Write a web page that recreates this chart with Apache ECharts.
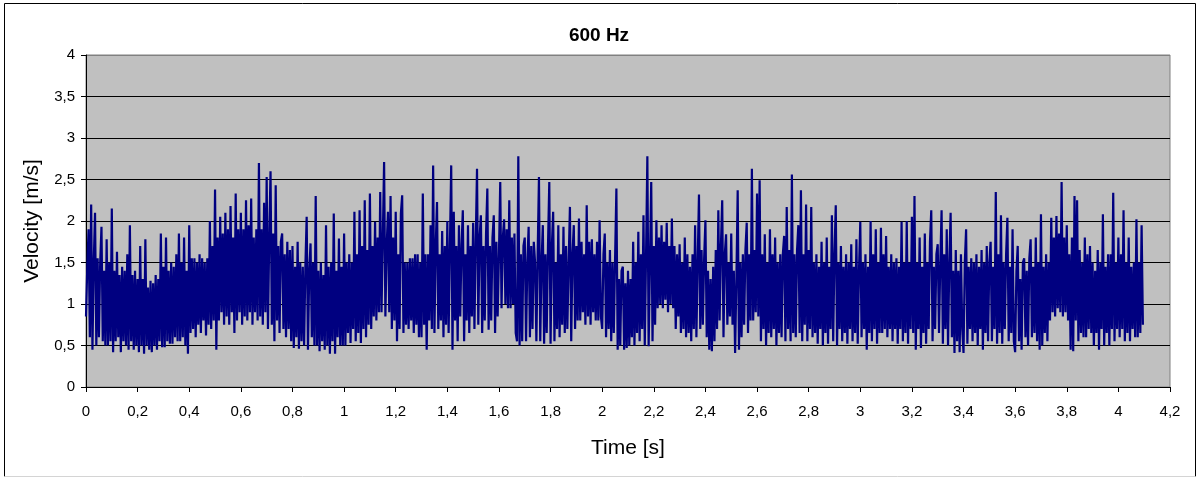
<!DOCTYPE html>
<html>
<head>
<meta charset="utf-8">
<script src="https://cdn.jsdelivr.net/npm/echarts@6/dist/echarts.min.js"></script>
<style>
html,body{margin:0;padding:0;background:#fff;}
#chart{width:1198px;height:479px;}
</style>
</head>
<body>
<div id="chart"></div>
<script>
var chartTitle = "600 Hz";
var xAxisName = "Time [s]";
var yAxisName = "Velocity [m/s]";
var sampleStep = 0.005; // seconds between samples
var velocity = [
0.85,1.45,1.9,0.6,2.2,0.45,1.5,2.1,0.5,1.55,0.6,1.5,1.93,0.55,1.4,0.5,1.78,0.5,1.5,0.55,
2.15,0.42,1.4,0.55,1.63,0.6,1.35,0.42,1.45,0.55,1.4,0.5,1.6,0.45,1.95,0.55,1.35,0.45,1.4,0.5,
1.3,0.42,1.7,0.5,1.3,0.4,1.78,0.5,1.2,0.45,1.28,0.42,1.25,0.5,1.35,0.45,1.3,0.55,1.85,0.48,
1.45,0.48,1.8,0.55,1.4,0.52,1.5,0.52,1.45,0.6,1.6,0.55,1.85,0.55,1.5,0.6,1.8,0.5,1.4,0.4,
1.95,0.65,1.55,0.7,1.55,0.6,1.5,0.75,1.6,0.65,1.55,0.8,1.5,0.62,1.55,0.75,2.0,0.7,1.7,0.8,
2.38,0.45,1.8,0.8,2.05,0.9,1.85,0.75,2.1,0.85,1.9,0.75,2.18,0.9,1.8,0.65,2.33,0.8,1.9,0.9,
2.1,0.75,1.9,0.85,2.25,0.8,1.95,0.9,2.27,0.75,1.8,0.9,1.9,0.8,2.7,0.85,1.9,0.75,2.22,0.9,
2.53,0.7,1.8,2.6,0.75,1.85,0.55,2.43,0.8,1.7,0.65,1.75,1.85,0.7,1.6,0.6,1.75,0.7,1.65,0.55,
1.7,0.47,1.45,0.6,1.75,0.46,1.5,0.55,1.45,0.5,1.45,2.05,0.45,1.4,1.73,0.6,1.5,0.5,2.3,0.5,
1.4,0.43,1.5,0.55,1.35,0.45,1.95,0.5,1.45,0.4,1.5,0.55,2.09,0.4,1.4,0.6,1.79,0.5,1.45,0.5,
1.85,0.5,1.5,0.65,1.6,0.53,1.5,0.7,2.11,0.55,1.6,0.65,2.13,0.53,1.7,0.7,2.25,0.6,1.65,0.75,
2.33,0.7,1.7,0.85,1.99,0.8,1.8,0.9,2.35,0.9,1.8,2.71,0.85,1.7,2.11,0.9,2.3,0.7,1.8,0.8,
2.11,0.55,1.6,0.7,2.09,2.31,0.65,1.5,0.75,1.5,0.7,1.55,0.8,1.55,0.65,1.6,0.75,1.6,0.6,1.5,
0.6,2.33,0.75,1.6,0.45,1.6,0.8,1.95,0.7,2.67,0.65,1.7,2.23,0.7,1.6,0.8,1.88,0.6,1.7,0.75,
2.0,0.65,1.7,2.67,0.45,2.11,0.8,1.7,0.55,1.95,0.85,1.7,2.13,0.55,1.6,0.8,1.95,0.65,1.7,0.85,
1.98,0.7,1.75,2.63,0.75,1.8,2.07,0.65,1.7,0.8,1.85,2.39,0.69,1.7,0.8,1.8,2.07,0.65,1.75,0.85,
1.6,2.47,0.95,1.8,2.02,1.0,1.9,0.95,2.25,0.95,1.8,1.0,1.85,0.65,0.55,2.78,0.5,1.6,0.55,1.7,
1.8,0.55,1.5,1.93,0.6,1.7,0.7,1.75,1.5,0.55,1.6,2.53,0.55,1.5,1.95,0.52,1.6,0.65,1.7,2.47,
0.52,1.7,2.11,0.55,1.5,0.7,1.95,0.6,1.6,0.75,1.93,0.65,1.7,0.7,1.5,2.17,0.55,1.6,1.95,0.7,
1.7,0.8,2.03,0.8,1.75,0.9,1.6,0.75,2.19,0.85,1.75,0.75,1.78,0.9,1.6,0.8,1.75,0.8,2.01,0.85,
0.7,1.6,1.85,0.6,1.5,0.7,1.65,0.55,1.5,0.65,1.55,2.39,0.45,1.3,0.5,1.4,1.45,0.45,1.25,0.47,
1.4,0.5,1.3,0.6,1.75,0.5,1.5,0.65,1.87,0.55,1.6,0.7,2.07,0.5,1.6,2.78,0.49,1.5,2.47,0.55,
1.7,0.75,2.01,0.95,1.8,1.0,1.95,0.95,1.75,1.05,1.98,0.9,1.7,1.0,2.03,0.95,1.7,0.7,1.6,0.85,
1.72,0.65,1.5,0.7,1.8,0.6,1.6,0.65,1.45,0.55,1.6,0.7,1.95,0.6,1.5,2.32,0.7,1.65,0.75,1.55,
2.01,0.6,1.4,0.45,1.3,0.43,1.45,0.55,1.65,0.7,2.13,0.8,1.7,2.25,0.6,1.6,1.84,0.75,1.5,0.85,
1.85,0.75,1.4,0.41,1.3,2.37,0.45,1.5,0.6,1.6,0.75,1.65,1.98,0.65,1.6,0.8,2.63,0.8,1.65,0.9,
2.33,0.85,2.49,0.55,1.6,0.7,1.84,0.5,1.5,0.65,1.9,0.6,1.6,0.7,1.8,0.5,1.5,0.65,1.6,0.6,
1.6,1.82,0.55,2.17,0.7,1.65,0.55,2.56,0.65,1.6,0.6,1.65,1.95,0.65,2.37,0.55,1.6,0.75,2.2,0.55,
1.65,0.7,2.17,0.6,1.5,0.65,1.6,0.52,1.45,0.7,1.75,0.5,1.5,0.65,1.8,0.52,1.45,0.7,2.07,0.55,
1.6,2.19,0.5,1.5,0.7,1.7,0.55,1.45,0.65,1.6,0.52,1.5,0.7,1.72,0.55,1.45,0.65,1.78,0.52,1.4,
1.99,0.6,1.5,0.7,1.6,0.45,1.45,0.65,2.0,0.55,1.6,0.7,1.9,0.52,1.5,0.65,1.92,0.65,1.6,0.7,
1.82,0.6,1.45,0.7,1.6,0.55,1.5,0.7,1.55,0.52,1.45,0.7,1.99,0.55,1.5,0.65,2.0,0.52,1.5,0.7,
2.05,0.65,2.3,0.45,1.5,0.7,1.8,0.47,1.45,0.65,1.85,0.52,1.5,0.7,1.75,2.13,0.55,1.45,0.7,1.6,
1.72,0.65,1.5,2.13,0.52,1.6,0.7,1.9,0.5,1.5,2.1,0.6,1.4,0.41,1.65,0.55,1.4,0.42,1.6,0.7,
0.41,1.5,1.9,0.52,1.45,0.7,1.55,0.55,1.5,0.65,1.6,0.5,1.45,0.7,1.65,0.45,1.5,0.65,1.7,0.55,
1.5,1.75,0.55,1.45,0.7,2.35,0.52,1.6,0.65,2.07,0.52,1.5,0.7,1.6,2.04,0.55,1.45,0.65,1.9,0.55,
0.42,1.4,1.7,0.55,1.3,0.45,1.5,1.55,0.6,1.4,0.5,1.55,1.78,0.6,1.45,0.65,1.8,0.55,1.5,0.45,
2.08,0.5,1.45,0.65,1.6,0.55,1.5,0.8,2.04,0.9,1.8,0.85,2.06,0.95,1.85,0.9,2.47,0.85,1.8,0.9,
1.95,0.8,1.6,0.45,1.8,0.43,2.3,0.8,2.25,0.55,1.65,0.65,1.5,0.6,1.8,0.6,1.6,0.7,1.7,0.65,
1.5,0.5,1.4,0.65,1.65,0.45,1.5,0.7,2.08,0.5,1.45,0.65,1.6,0.5,1.6,0.7,2.34,0.55,1.5,0.7,
1.8,0.6,1.6,0.7,2.13,0.55,1.5,0.65,1.8,0.55,1.45,0.7,1.5,0.6,2.02,0.6,1.5,0.65,1.95,0.75
];
var xTicks = {min: 0, max: 4.2, interval: 0.2};
var yTicks = {min: 0, max: 4, interval: 0.5};

var seriesData = velocity.map(function (v, i) { return [i * sampleStep, v]; });
function commaFmt(v) { return String(Math.round(v * 10) / 10).replace('.', ','); }

var chart = echarts.init(document.getElementById('chart'), null, {renderer: 'canvas'});
var font = '"Liberation Sans", Arial, sans-serif';
chart.setOption({
  animation: false,
  backgroundColor: '#ffffff',
  title: {
    text: chartTitle, left: 'center', top: 21,
    textStyle: {fontFamily: font, fontSize: 19, fontWeight: 'bold', color: '#000'}
  },
  grid: {
    left: 86, right: 28, top: 55, bottom: 92,
    show: true, backgroundColor: '#c0c0c0', borderColor: '#808080', borderWidth: 1
  },
  xAxis: {
    type: 'value', min: xTicks.min, max: xTicks.max, interval: xTicks.interval,
    name: xAxisName, nameLocation: 'middle', nameGap: 51,
    nameTextStyle: {fontFamily: font, fontSize: 21, color: '#000'},
    axisLine: {show: true, onZero: false, lineStyle: {color: '#000', width: 1}},
    axisTick: {show: true, inside: false, length: 5, lineStyle: {color: '#000'}},
    axisLabel: {fontFamily: font, fontSize: 15, color: '#000', margin: 17, formatter: commaFmt},
    splitLine: {show: false}
  },
  yAxis: {
    type: 'value', min: yTicks.min, max: yTicks.max, interval: yTicks.interval,
    name: yAxisName, nameLocation: 'middle', nameGap: 43,
    nameTextStyle: {fontFamily: font, fontSize: 21, color: '#000'},
    axisLine: {show: true, onZero: false, lineStyle: {color: '#000', width: 1}},
    axisTick: {show: true, inside: false, length: 5, lineStyle: {color: '#000'}},
    axisLabel: {fontFamily: font, fontSize: 15, color: '#000', margin: 11, formatter: commaFmt},
    splitLine: {show: true, lineStyle: {color: ['#000','#000','#000','#000','#000','#000','#000','#000','#808080'], width: 1}}
  },
  graphic: [
    {type: 'polyline', silent: true, shape: {points: [[4.5, 476.5], [4.5, 3.5], [1195.5, 3.5], [1195.5, 476.5]]}, style: {stroke: '#000', lineWidth: 1, fill: null}},
    {type: 'line', silent: true, shape: {x1: 4.5, y1: 476.5, x2: 1195.5, y2: 476.5}, style: {stroke: '#d4d4d4', lineWidth: 1}}
  ],
  series: [{
    type: 'line', data: seriesData, showSymbol: false, symbol: 'none',
    lineStyle: {color: '#000080', width: 2.2, join: 'bevel'}, sampling: null, clip: true
  }]
});
</script>
</body>
</html>
